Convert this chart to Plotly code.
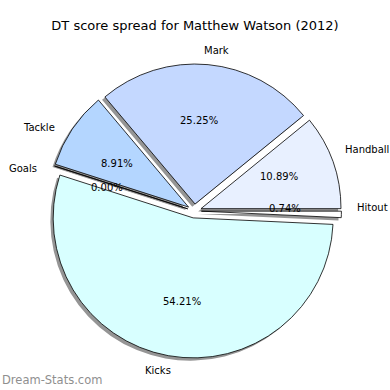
import math
import plotly.graph_objects as go

labels = ["Hitout", "Handball", "Mark", "Tackle", "Goals", "Kicks"]
values = [0.74, 10.89, 25.25, 8.91, 0.00, 54.21]
pulls = [0.05, 0.05, 0.05, 0.05, 0.05, 0.05]
colors = ["#ffffff", "#e8f0ff", "#c4d8ff", "#b4d6ff", "#d8ecff", "#d8ffff"]

W = H = 390
cx, cy, R = 194.4, 211, 140
half = R * (1 + max(pulls))


def dom(x0, y0):
    return dict(x=[(x0 - half) / W, (x0 + half) / W],
                y=[1 - (y0 + half) / H, 1 - (y0 - half) / H])


common = dict(values=values, labels=labels, sort=False, direction="counterclockwise",
              rotation=90, pull=pulls, hoverinfo="skip", showlegend=False,
              automargin=False, textinfo="none")

fig = go.Figure()
# shadow
fig.add_trace(go.Pie(**common, domain=dom(cx - 2.8, cy + 2.8),
                     marker=dict(colors=["#959595"] * 6, line=dict(width=0))))
# main
fig.add_trace(go.Pie(**common, domain=dom(cx, cy),
                     marker=dict(colors=colors, line=dict(color="black", width=0.8))))

# text placed like matplotlib: labels at 1.1 R, percentages at 0.6 R from the exploded centre
annotations = []
total = sum(values)
acc = 0.0
font = dict(family="DejaVu Sans", size=10, color="black")
for lab, v, p in zip(labels, values, pulls):
    theta = math.radians(360.0 * (acc + v / 2) / total)
    acc += v
    c, s = math.cos(theta), math.sin(theta)
    ex, ey = cx + p * R * c, cy - p * R * s
    lx, ly = ex + 1.1 * R * c, ey - 1.1 * R * s
    annotations.append(dict(text=lab, x=lx / W, y=1 - ly / H, xref="paper", yref="paper",
                            xanchor="left" if c > 0 else "right", yanchor="middle",
                            showarrow=False, font=font))
    tx, ty = ex + 0.6 * R * c, ey - 0.6 * R * s
    annotations.append(dict(text="%.2f%%" % (100.0 * v / total), x=tx / W, y=1 - ty / H,
                            xref="paper", yref="paper", xanchor="center", yanchor="middle",
                            showarrow=False, font=font))

annotations.append(dict(text="Dream-Stats.com", x=0, y=1 - 380 / H, xref="paper", yref="paper",
                        xanchor="left", yanchor="middle", showarrow=False,
                        font=dict(family="DejaVu Sans", size=11.5, color="#8f8f8f")))

fig.update_layout(
    width=W, height=H, margin=dict(l=0, r=0, t=0, b=0, pad=0, autoexpand=False),
    paper_bgcolor="white", plot_bgcolor="white",
    title=dict(text="DT score spread for Matthew Watson (2012)", x=0.5, xanchor="center",
               y=1 - 25 / H, yanchor="middle",
               font=dict(family="DejaVu Sans", size=13, color="black")),
    annotations=annotations,
)
fig.write_html("out.html")
